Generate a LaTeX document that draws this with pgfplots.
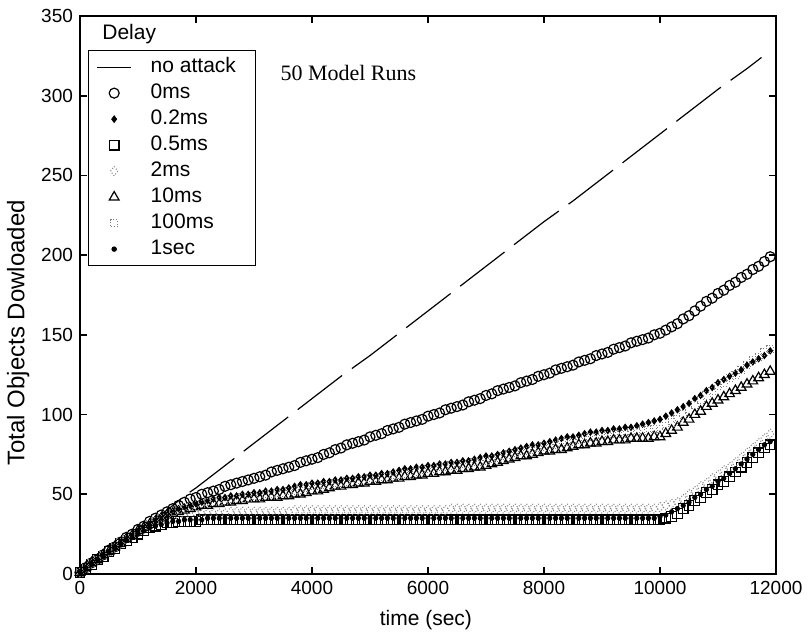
\documentclass[border=0pt]{standalone}
\usepackage{pgfplots}
\usepackage{pgfplotstable}
\pgfplotsset{compat=1.18}
\usepackage{fontspec}
\setmainfont{Liberation Sans}
\newfontfamily\seriffont{Liberation Serif}

\pgfplotstableread{
x c0 c02 c05 c2 c10 c100 c1s
0 1 1 1 1 1 1 1
100 4 4 3 4 4 4 3
200 7 7 6 7 7 7 6
300 9 9 9 9 9 9 9
400 12 12 11 12 12 12 11
500 15 14 14 14 14 14 14
600 17 17 16 17 17 17 16
700 20 20 19 19 19 20 19
800 23 22 21 22 22 22 21
900 25 25 23 24 24 24 23
1000 28 27 25 27 27 27 25
1100 30 30 27 29 29 29 27
1200 33 32 29 31 31 31 29
1300 35 34 30 33 33 33 30
1400 37 36 31 34 35 35 31
1500 39 38 32 35 37 37 32
1600 41 39 32 36 38 38 33
1700 43 41 33 36 39 40 33
1800 45 42 33 37 40 41 34
1900 47 43 33 37 41 42 34
2000 48 44 33 38 42 43 34
2100 50 45 34 38 43 44 34
2200 51 46 34 38 43 45 35
2300 52 47 34 38 44 45 35
2400 53 48 34 38 44 46 35
2500 55 48 34 38 45 46 35
2600 56 49 34 39 45 47 35
2700 57 49 34 39 46 47 35
2800 58 50 34 39 46 48 35
2900 59 50 34 39 47 48 35
3000 60 51 34 39 47 49 35
3100 61 51 34 39 47 49 35
3200 62 52 34 39 48 50 35
3300 64 52 34 39 48 50 35
3400 65 53 34 39 48 51 35
3500 66 53 34 39 49 51 35
3600 67 54 34 39 49 52 35
3700 68 55 34 40 50 52 35
3800 70 56 34 40 50 53 35
3900 71 56 34 40 51 54 35
4000 72 57 34 40 52 55 35
4100 73 57 34 40 52 55 35
4200 75 58 34 40 53 56 35
4300 76 58 34 40 54 56 35
4400 78 59 34 40 55 57 35
4500 79 59 34 40 55 57 35
4600 81 60 34 40 56 58 35
4700 82 60 34 40 56 58 35
4800 83 61 34 40 57 59 35
4900 84 61 34 40 57 59 35
5000 86 62 34 40 58 60 35
5100 87 62 34 40 58 60 35
5200 88 63 34 40 59 61 35
5300 90 63 34 40 59 61 35
5400 91 64 34 40 60 62 35
5500 92 65 34 40 60 62 35
5600 94 66 34 40 61 63 35
5700 95 66 34 40 61 63 35
5800 96 67 34 40 62 64 35
5900 97 67 34 40 62 65 35
6000 99 68 34 40 63 66 35
6100 100 68 34 40 63 66 35
6200 101 69 34 40 64 67 35
6300 103 69 34 40 64 67 35
6400 104 70 34 41 65 68 35
6500 105 70 34 41 65 68 35
6600 106 71 34 41 66 69 35
6700 108 71 34 41 66 69 35
6800 109 72 34 41 67 70 35
6900 110 73 34 41 67 70 35
7000 112 74 34 41 68 71 35
7100 113 74 34 41 69 72 35
7200 115 75 34 41 70 73 35
7300 116 76 34 41 71 74 35
7400 117 77 34 41 72 75 35
7500 118 78 34 41 73 76 35
7600 120 79 34 41 74 77 35
7700 121 80 34 41 74 77 35
7800 122 81 34 41 75 78 35
7900 124 81 34 41 76 79 35
8000 125 82 34 41 77 80 35
8100 126 83 34 41 77 80 35
8200 128 84 34 41 78 81 35
8300 129 85 34 41 78 82 35
8400 130 86 34 41 79 83 35
8500 131 86 34 41 80 83 35
8600 133 87 34 41 81 84 35
8700 134 88 34 41 81 85 35
8800 135 89 34 41 82 86 35
8900 137 89 34 41 82 86 35
9000 138 90 34 41 83 87 35
9100 139 90 34 41 83 87 35
9200 141 91 34 41 84 88 35
9300 142 91 34 41 84 88 35
9400 143 92 34 41 84 88 35
9500 145 92 34 41 85 89 35
9600 146 93 34 41 85 89 35
9700 147 94 34 41 85 90 35
9800 148 95 34 41 85 90 35
9900 150 96 34 41 86 91 35
10000 151 97 34 42 86 91 36
10100 153 99 35 43 88 93 37
10200 155 101 36 44 90 95 39
10300 157 103 38 45 92 97 41
10400 160 105 41 47 95 100 43
10500 162 107 43 50 97 103 45
10600 165 110 46 52 100 106 48
10700 168 112 48 55 102 109 50
10800 171 115 51 57 105 112 53
10900 173 117 53 60 107 115 55
11000 176 120 56 62 109 118 58
11100 178 122 58 65 111 120 60
11200 181 124 61 67 113 123 63
11300 183 126 64 70 115 125 66
11400 186 128 67 73 117 128 69
11500 188 131 70 76 119 131 72
11600 191 133 73 79 121 134 75
11700 193 135 76 82 123 136 78
11800 196 137 79 85 125 139 81
11900 199 140 81 88 127 141 83
}\data

\begin{document}
\begin{tikzpicture}
\begin{axis}[
  name=ax,
  scale only axis,
  width=348pt, height=279pt,
  xmin=0, xmax=12000, ymin=0, ymax=350,
  xtick={0,2000,...,12000},
  ytick={0,50,...,350},
  scaled ticks=false,
  tick align=inside,
  major tick length=3.5pt,
  axis line style={line width=0.9pt},
  tick style={line width=0.8pt, black},
  ticklabel style={font=\fontsize{9.5}{11}\selectfont},
  /pgf/number format/assume math mode=true,
  /pgf/number format/1000 sep={},
  xlabel={time (sec)},
  ylabel={Total Objects Dowloaded},
  xlabel style={font=\fontsize{10.5}{12}\selectfont, at={(axis description cs:0.497,-0.0824)}, anchor=center},
  ylabel style={font=\fontsize{12}{14}\selectfont, at={(axis description cs:-0.089,0.432)}, anchor=center},
  legend cell align=left,
  legend style={at={(rel axis cs:0.0115,0.939)}, anchor=north west,
    draw=black, line width=0.6pt,
    font=\fontsize{10.5}{12}\selectfont,
    nodes={text height=7.5pt, text depth=2pt, inner sep=1.5pt},
    row sep=0.5pt, column sep=8pt, inner xsep=4pt, inner ysep=2pt},
  legend image post style={line width=0.5pt},
]
\addplot[black, line width=0.6pt, dash pattern=on 28pt off 6pt, no marks] coordinates {
(0,1) (300,10) (600,17) (900,25) (1200,32) (1500,40) (1800,49) (2000,54)
(2500,68) (3000,82) (3500,96) (4000,110) (4500,124) (5000,137) (5500,151)
(6000,165) (6500,179) (7000,193) (7500,207) (8000,221) (8500,234) (9000,248)
(9500,262) (10000,276) (10500,290) (11000,304) (11500,317) (11750,324)};
\addlegendentry{\makebox[47pt][l]{no attack}}
\addplot[only marks, mark=o, mark size=2.5pt, mark options={black, line width=0.6pt}] table[x=x,y=c0] {\data};
\addlegendentry{0ms}
\addplot[only marks, mark=diamond*, mark size=1.6pt, mark options={black}] table[x=x,y=c02] {\data};
\addlegendentry{0.2ms}
\addplot[only marks, mark=square, mark size=2.4pt, mark options={black, line width=0.6pt}] table[x=x,y=c05] {\data};
\addlegendentry{0.5ms}
\addplot[only marks, mark=diamond, mark size=2.4pt, mark options={gray, densely dotted, line width=0.5pt}] table[x=x,y=c2] {\data};
\addlegendentry{2ms}
\addplot[only marks, mark=triangle, mark size=2.8pt, mark options={black, line width=0.6pt}] table[x=x,y=c10] {\data};
\addlegendentry{10ms}
\addplot[only marks, mark=square, mark size=1.8pt, mark options={gray, densely dotted, line width=0.5pt}] table[x=x,y=c100] {\data};
\addlegendentry{100ms}
\addplot[only marks, mark=*, mark size=1.1pt, mark options={black}] table[x=x,y=c1s] {\data};
\addlegendentry{1sec}
\node[anchor=west, font=\fontsize{10.5}{12}\selectfont] at (rel axis cs:0.022,0.968) {Delay};
\node[anchor=west, font=\seriffont\fontsize{11}{13}\selectfont] at (rel axis cs:0.278,0.898) {50 Model Runs};
\end{axis}
\pgfresetboundingbox
\path ([shift={(-40pt,-30.5pt)}]ax.south west) rectangle ([shift={(16pt,8pt)}]ax.north east);
\end{tikzpicture}
\end{document}
